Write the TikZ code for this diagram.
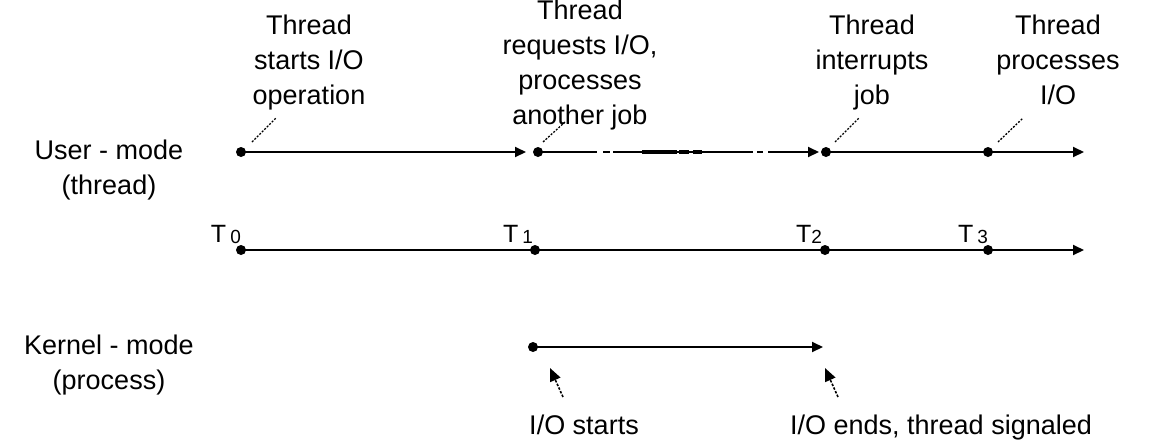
\documentclass[tikz,border=0pt]{standalone}
\usepackage{fontspec}
\setmainfont{Liberation Sans}
\usetikzlibrary{arrows.meta,calc}
\begin{document}
\begin{tikzpicture}[x=1pt,y=-1pt,
  lbl/.style={font=\fontsize{27}{35}\selectfont, align=center, inner sep=0pt, anchor=north},
  tlab/.style={font=\fontsize{25}{25}\selectfont, inner sep=0pt, anchor=base},
  dotn/.style={circle, fill=black, minimum size=10pt, inner sep=0pt},
  tline/.style={line width=2pt, -{Triangle[length=11pt,width=10pt]}},
  leader/.style={line width=1.3pt, dash pattern=on 2pt off 1.5pt},
  pointer/.style={line width=1.6pt, dash pattern=on 2.5pt off 1.5pt, -{Triangle[length=13pt,width=11pt]}}
]
\useasboundingbox (0,0) rectangle (1149,440);

% side labels
\node[lbl] (um) at (109,140) {User - mode\\(thread)};
\node[lbl] (km) at (109,335) {Kernel - mode\\(process)};

% top labels
\node[lbl] (a1) at (309,15) {Thread\\starts I/O\\operation};
\node[lbl] (a2) at (580,0) {Thread\\requests I/O,\\processes\\another job};
\node[lbl] (a3) at (872,15) {Thread\\interrupts\\job};
\node[lbl] (a4) at (1058,15) {Thread\\processes\\I/O};

% user-mode line
\node[dotn] (u0) at (241,152) {};
\coordinate (u1a) at (526,152);
\node[dotn] (u1) at (538,152) {};
\coordinate (u2a) at (819,152);
\node[dotn] (u2) at (826,152) {};
\node[dotn] (u3) at (988,152) {};
\coordinate (uend) at (1084,152);
\draw[tline] (u0.center) -- (u1a);
\draw[tline, dash pattern=on 59pt off 6pt on 7pt off 3pt on 140pt off 4pt on 6pt off 5pt on 60pt] (u1.center) -- (u2a);
\draw[line width=4pt, dash pattern=on 35pt off 2pt on 10pt off 4pt on 9pt off 50pt] ($(u1.center)+(104,0)$) -- ($(u1.center)+(164,0)$);
\draw[tline] (u2.center) -- (uend);

% leaders
\coordinate (l0a) at (252,142); \coordinate (l0b) at (276,118);
\coordinate (l1a) at (543,142); \coordinate (l1b) at (565,122);
\coordinate (l2a) at (835,142); \coordinate (l2b) at (859,118);
\coordinate (l3a) at (998,142); \coordinate (l3b) at (1023,118);
\draw[leader] (l0a) -- (l0b);
\draw[leader] (l1a) -- (l1b);
\draw[leader] (l2a) -- (l2b);
\draw[leader] (l3a) -- (l3b);

% time line
\node[dotn] (t0) at (241,250) {};
\node[dotn] (t1) at (535,250) {};
\node[dotn] (t2) at (825,250) {};
\node[dotn] (t3) at (988,250) {};
\coordinate (tend) at (1084,250);
\draw[tline] (t0.center) -- (tend);
\node[tlab] (T0) at (226,242) {T\,\raisebox{-1pt}{\fontsize{19}{19}\selectfont 0}};
\node[tlab] (T1) at (518,242) {T\,\raisebox{-1pt}{\fontsize{19}{19}\selectfont 1}};
\node[tlab] (T2) at (809,242) {T\raisebox{-1pt}{\fontsize{19}{19}\selectfont 2}};
\node[tlab] (T3) at (973,242) {T\,\raisebox{-1pt}{\fontsize{19}{19}\selectfont 3}};

% kernel line
\node[dotn] (k1) at (533,347) {};
\coordinate (k2) at (823,347);
\draw[tline] (k1.center) -- (k2);

% bottom labels and pointers
\node[lbl] (s1) at (584,415) {I/O starts};
\node[lbl] (s2) at (941,415) {I/O ends, thread signaled};
\coordinate (p1a) at (563,397); \coordinate (p1b) at (550,368);
\coordinate (p2a) at (838,397); \coordinate (p2b) at (825,368);
\draw[pointer] (p1a) -- (p1b);
\draw[pointer] (p2a) -- (p2b);
\end{tikzpicture}
\end{document}
